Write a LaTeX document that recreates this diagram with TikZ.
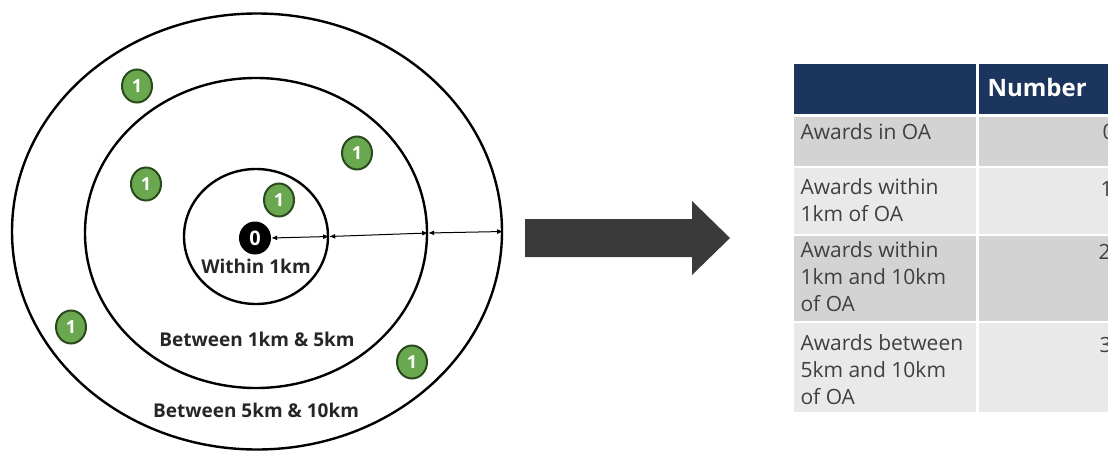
\documentclass[tikz,border=0pt]{standalone}
\usepackage{fontspec}
\setsansfont{Open Sans}
\usetikzlibrary{shapes.geometric,arrows.meta}
\definecolor{awardgreen}{HTML}{6AA84F}
\definecolor{awardedge}{HTML}{2A4A1E}
\definecolor{navy}{HTML}{1C355E}
\definecolor{rowdark}{HTML}{D3D3D3}
\definecolor{rowlight}{HTML}{E9E9E9}
\definecolor{arrowgray}{HTML}{3A3A3A}
\begin{document}
\begin{tikzpicture}[x=1pt,y=-1pt,
  ring/.style={ellipse,draw=black,line width=2.4pt,inner sep=0pt},
  award/.style={ellipse,fill=awardgreen,draw=awardedge,line width=2pt,minimum width=30pt,minimum height=33pt,inner sep=0pt,text=white,font=\sffamily\bfseries\fontsize{18}{18}\selectfont},
  origin/.style={ellipse,fill=black,minimum width=32pt,minimum height=33pt,inner sep=0pt,text=white,font=\sffamily\bfseries\fontsize{20}{20}\selectfont},
  zonelabel/.style={font=\sffamily\bfseries\fontsize{19}{20}\selectfont,text=black!85},
  dim/.style={line width=1pt,{Latex[length=6pt,width=5pt]}-{Latex[length=6pt,width=5pt]}},
  cell/.style={anchor=west,align=left,font=\sffamily\fontsize{21}{27}\selectfont,text=black!75},
  num/.style={anchor=west,font=\sffamily\fontsize{21}{27}\selectfont,text=black!75}]
\useasboundingbox (0,0) rectangle (1108,450);
\clip (0,0) rectangle (1108,450);
% rings
\node[ring,minimum width=490pt,minimum height=436pt] (outer) at (257,231.5) {};
\node[ring,minimum width=342pt,minimum height=310pt] (middle) at (256,233) {};
\node[ring,minimum width=144pt,minimum height=135pt] (inner) at (256,236.5) {};
% origin
\node[origin] (zero) at (255,238) {0};
% awards
\node[award] (a1) at (137,86) {1};
\node[award] (a2) at (357,153) {1};
\node[award] (a3) at (146,184) {1};
\node[award] (a4) at (279,200) {1};
\node[award] (a5) at (71,327) {1};
\node[award] (a6) at (412,362) {1};
% dimension arrows
\draw[dim] (zero.east) -- (inner.east);
\draw[dim] (inner.east) -- (middle.east);
\draw[dim] (middle.east) -- (outer.east);
% zone labels
\node[zonelabel] (l1) at (256,266) {Within 1km};
\node[zonelabel] (l2) at (257,339) {Between 1km \& 5km};
\node[zonelabel] (l3) at (256,410) {Between 5km \& 10km};
% block arrow
\fill[arrowgray] (525,219) -- (692,219) -- (692,201) -- (730,238) -- (692,275) -- (692,257) -- (525,257) -- cycle;
% table
\fill[navy] (794,64) rectangle (1120,114);
\fill[rowdark] (794,117) rectangle (1120,166);
\fill[rowlight] (794,168) rectangle (1120,234);
\fill[rowdark] (794,236) rectangle (1120,321);
\fill[rowlight] (794,323) rectangle (1120,412);
\fill[white] (976,64) rectangle (978.5,412);
\node[anchor=west,font=\sffamily\bfseries\fontsize{24}{24}\selectfont,text=white] (hdr) at (984,87) {Number};
\node[cell] (r1) at (797,132) {Awards in OA};
\node[cell,anchor=north west] (r2) at (797,175) {Awards within\\1km of OA};
\node[cell,anchor=north west] (r3) at (797,238) {Awards within\\1km and 10km\\of OA};
\node[cell,anchor=north west] (r4) at (797,331) {Awards between\\5km and 10km\\of OA};
\node[num] (n1) at (1099,132) {0};
\node[num] (n2) at (1097,189) {1};
\node[num] (n3) at (1095,252) {2};
\node[num] (n4) at (1096,345) {3};
\end{tikzpicture}
\end{document}
